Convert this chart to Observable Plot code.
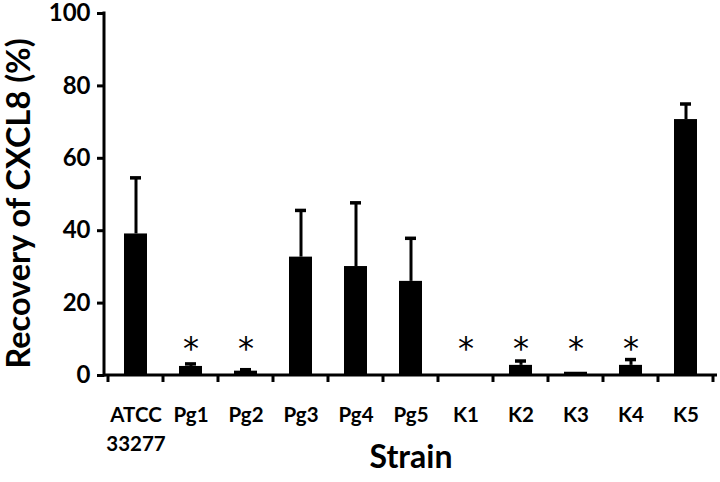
<!DOCTYPE html>
<html>
<head>
<meta charset="utf-8">
<script src="https://cdn.jsdelivr.net/npm/d3@7"></script>
<script src="https://cdn.jsdelivr.net/npm/@observablehq/plot@0.6"></script>
<style>
  html, body { margin: 0; padding: 0; background: #fff; }
  #chart svg { display: block; overflow: visible; }
</style>
</head>
<body>
<div id="chart"></div>
<script>
// ---- data ----
const strains = ["ATCC 33277", "Pg1", "Pg2", "Pg3", "Pg4", "Pg5", "K1", "K2", "K3", "K4", "K5"];
const tickLabels = ["ATCC\n33277", "Pg1", "Pg2", "Pg3", "Pg4", "Pg5", "K1", "K2", "K3", "K4", "K5"];
const recovery = [39.1, 2.5, 1.2, 32.7, 30.1, 26.0, 0, 2.8, 0.9, 2.8, 70.7];
const errorTop = [54.6, 3.2, 1.6, 45.6, 47.7, 37.9, 0, 4.0, 1.0, 4.4, 75.0];
const significant = ["Pg1", "Pg2", "K1", "K2", "K3", "K4"];
const yTicks = [0, 20, 40, 60, 80, 100];

const data = strains.map((s, i) => ({strain: s, label: tickLabels[i], value: recovery[i], upper: errorTop[i]}));
const withErr = data.filter(d => d.upper - d.value > 0.2);

const FONT = "Lato, 'Open Sans', sans-serif";

// axis lines + category boundary ticks, derived from the scales
function axesFrame(index, scales, values, dimensions) {
  const x = scales.x, y = scales.y;
  const [r0, r1] = x.range();
  const bw = x.bandwidth(), step = x.step();
  const g = d3.create("svg:g").attr("stroke", "black").attr("fill", "none");
  const y0 = y(0), yTop = y(100);
  g.append("line").attr("x1", r0).attr("x2", r0).attr("y1", yTop - 1.5).attr("y2", y0 + 1.5).attr("stroke-width", 3);
  g.append("line").attr("x1", r0).attr("x2", r1).attr("y1", y0).attr("y2", y0).attr("stroke-width", 3);
  const bounds = strains.map(s => x(s) - (step - bw) / 2);
  bounds.push(x(strains[strains.length - 1]) + bw + (step - bw) / 2);
  for (const b of bounds) {
    g.append("line").attr("x1", b).attr("x2", b).attr("y1", y0).attr("y2", y0 + 7).attr("stroke-width", 3);
  }
  return g.node();
}

const chart = Plot.plot({
  width: 720,
  height: 482,
  marginLeft: 104,
  marginRight: 3,
  marginTop: 13,
  marginBottom: 107,
  style: {fontFamily: FONT, background: "white", color: "black", overflow: "visible"},
  x: {domain: strains, paddingInner: 0.58, paddingOuter: 0.29, axis: null},
  y: {domain: [0, 100], axis: null},
  marks: [
    Plot.barY(data, {x: "strain", y: "value", fill: "black"}),
    Plot.ruleX(withErr, {x: "strain", y1: "value", y2: "upper", stroke: "black", strokeWidth: 3}),
    Plot.tickY(withErr, {x: "strain", y: "upper", stroke: "black", strokeWidth: 3.5, insetLeft: 6, insetRight: 6}),
    Plot.axisY({ticks: yTicks, tickSize: 7, tickPadding: 7, strokeWidth: 3, fontSize: 24, fontWeight: "bold", label: null, tickFormat: d => String(d)}),
    axesFrame,
    Plot.text(data, {x: "strain", text: "label", frameAnchor: "bottom", lineAnchor: "top", dy: 26, lineHeight: 1.4, fontSize: 20.5, fontWeight: "bold"}),
    Plot.text(significant, {x: d => d, text: () => "*", frameAnchor: "bottom", dy: -17, fontSize: 32, fontFamily: "'DejaVu Sans', sans-serif", fontWeight: "normal"}),
    Plot.text(["Strain"], {frameAnchor: "bottom", dy: 92, fontSize: 32, fontWeight: "bold"}),
    Plot.text(["Recovery of CXCL8 (%)"], {frameAnchor: "left", textAnchor: "middle", rotate: -90, dx: -85, dy: 9, fontSize: 32.5, fontWeight: "bold"})
  ]
});
document.getElementById("chart").appendChild(chart);
</script>
</body>
</html>
